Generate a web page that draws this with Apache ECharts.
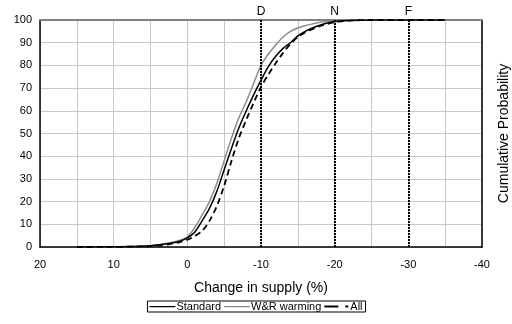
<!DOCTYPE html>
<html>
<head>
<meta charset="utf-8">
<script src="https://cdn.jsdelivr.net/npm/echarts@6/dist/echarts.min.js"></script>
<style>html,body{margin:0;padding:0;background:#fff}#c{width:512px;height:324px}</style>
</head>
<body>
<div id="c"></div>
<script>
var xs        = [15, 10, 7.5, 5, 2.5, 1, 0, -1, -2, -3, -4, -5, -6, -7, -8, -9, -10, -11, -12, -13, -14, -15, -16, -17, -18, -20, -22, -25, -30, -35];
var standard  = [0, 0.1, 0.2, 0.5, 1.5, 2.6, 4, 6.5, 11.5, 17, 24.5, 34, 43.5, 52.5, 60, 67, 73.5, 79.5, 84, 87.5, 90, 93, 95, 96.5, 97.7, 99.3, 99.8, 100, 100, 100];
var wrWarming = [0, 0.1, 0.2, 0.6, 1.8, 3, 4.5, 8.5, 14, 20, 28, 38, 48, 57, 64, 72, 80, 85, 89, 92.5, 95, 96.5, 97.5, 98.3, 99, 99.6, 99.9, 100, 100, 100];
var allSeries = [0, 0.05, 0.15, 0.4, 1.2, 2.2, 3.2, 4.8, 7, 11.5, 18, 27, 38, 48, 56, 63.5, 70.5, 76, 81, 85.5, 89.5, 92.5, 94.5, 96, 97.3, 99, 99.7, 100, 100, 100];
var markers   = [{x: -10, label: 'D'}, {x: -20, label: 'N'}, {x: -30, label: 'F'}];

function pairs(v){ return xs.map(function(x,i){ return [x, v[i]]; }); }
var FONT = 'Liberation Sans, Arial, sans-serif';
var PAD = 'M0,0h0.01v0.01h-0.01z M0,8h0.01v0.01h-0.01z ';
var iconSolid = 'path://' + PAD + 'M0,3.5h26v1.2h-26z';
var iconDash  = 'path://' + PAD + 'M0,3h14v2h-14z M21,3h3v2h-3z';
var chart = echarts.init(document.getElementById('c'), null, {renderer:'canvas'});
chart.setOption({
  animation: false,
  textStyle: {fontFamily: FONT, color: '#000'},
  grid: {left: 40, right: 30, top: 20, bottom: 77, containLabel: false, outerBoundsMode: 'none'},
  legend: {
    bottom: 12, left: 'center',
    data: [{name: 'Standard', icon: iconSolid}, {name: 'W&R warming', icon: iconSolid}, {name: 'All', icon: iconDash}],
    borderColor: '#000', borderWidth: 1, padding: [0, 3, 0, 2],
    itemGap: 3, itemWidth: 26, itemHeight: 8,
    textStyle: {fontFamily: FONT, fontSize: 11, color: '#000', padding: [0,0,0,-4]}
  },
  xAxis: [{
    type: 'value', min: -40, max: 20, interval: 5, inverse: true,
    name: 'Change in supply (%)', nameLocation: 'middle', nameGap: 34,
    nameTextStyle: {fontFamily: FONT, fontSize: 14, color: '#000'},
    axisLine: {show: true, onZero: false, lineStyle: {color: '#000', width: 1.5}},
    axisTick: {show: false},
    axisLabel: {fontFamily: FONT, fontSize: 11, color: '#000', margin: 12,
      formatter: function(v){ return (v % 10 === 0) ? String(v) : ''; }},
    splitLine: {show: true, lineStyle: {color: '#c8c8c8', width: 1}}
  }, {
    type: 'value', min: -40, max: 20, inverse: true, position: 'top',
    axisLine: {show: true, onZero: false, lineStyle: {color: '#808080', width: 2}},
    axisTick: {show: false}, axisLabel: {show: false}, splitLine: {show: false}
  }],
  yAxis: [{
    type: 'value', min: 0, max: 100, interval: 10,
    axisLine: {show: true, onZero: false, lineStyle: {color: '#000', width: 1.5}},
    axisTick: {show: false},
    axisLabel: {fontFamily: FONT, fontSize: 11, color: '#000', margin: 8},
    splitLine: {show: true, lineStyle: {color: '#c8c8c8', width: 1}}
  }, {
    type: 'value', min: 0, max: 100, interval: 10, position: 'right',
    name: 'Cumulative Probability', nameLocation: 'middle', nameGap: 15, nameRotate: 90,
    nameTextStyle: {fontFamily: FONT, fontSize: 14, color: '#000'},
    axisLine: {show: true, onZero: false, lineStyle: {color: '#000', width: 1.5}},
    axisTick: {show: false}, axisLabel: {show: false}, splitLine: {show: false}
  }],
  series: [{
    name: 'Standard', type: 'line', data: pairs(standard), symbol: 'none', smooth: 0.3,
    lineStyle: {color: '#000', width: 1.5}, itemStyle: {color: '#000'}, z: 4,
    markLine: {
      silent: true, symbol: 'none',
      lineStyle: {color: '#000', type: [2, 1], width: 2},
      label: {show: true, position: 'end', fontFamily: FONT, fontSize: 12, color: '#000', distance: 2,
        formatter: function(p){ return p.name; }},
      data: markers.map(function(m){ return {name: m.label, xAxis: m.x}; })
    }
  }, {
    name: 'W&R warming', type: 'line', data: pairs(wrWarming), symbol: 'none', smooth: 0.3,
    lineStyle: {color: '#8c8c8c', width: 1.5}, itemStyle: {color: '#8c8c8c'}, z: 3
  }, {
    name: 'All', type: 'line', data: pairs(allSeries), symbol: 'none', smooth: 0.3,
    lineStyle: {color: '#000', width: 1.8, type: [6, 4]}, itemStyle: {color: '#000'}, z: 5
  }]
});
</script>
</body>
</html>
